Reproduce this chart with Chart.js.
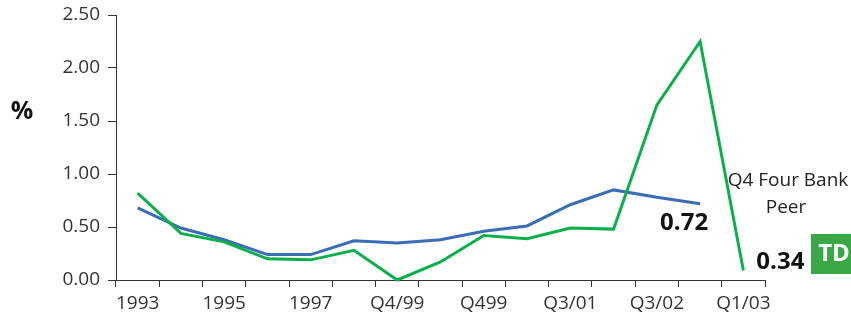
<!DOCTYPE html>
<html>
<head>
<meta charset="utf-8">
<script src="https://cdn.jsdelivr.net/npm/chart.js@4/dist/chart.umd.min.js"></script>
<style>
  body { margin: 0; background: #fff; }
  canvas { display: block; }
</style>
</head>
<body>
<canvas id="chart" width="851" height="326"></canvas>
<script>
const categories = ['1993', '1994', '1995', '1996', '1997', '1998', 'Q4/99', 'Q2/00', 'Q499', 'Q1/01', 'Q3/01', 'Q1/02', 'Q3/02', 'Q4/02', 'Q1/03'];
const peerValues = [0.68, 0.49, 0.38, 0.24, 0.24, 0.37, 0.35, 0.38, 0.46, 0.51, 0.71, 0.85, 0.78, 0.72, null];
const tdValues = [0.82, 0.44, 0.36, 0.20, 0.19, 0.28, 0.00, 0.17, 0.42, 0.39, 0.49, 0.48, 1.65, 2.25, 0.09];
const yTicks = [0, 0.5, 1.0, 1.5, 2.0, 2.5];
const peerLabel = '0.72';
const tdLabel = '0.34';
const peerNote = ['Q4 Four Bank', 'Peer'];

const FONT = '"Open Sans", sans-serif';
const BLUE = '#3a6db5';
const GREEN = '#0bb04a';

// free text around the plot: %, end values, peer note, TD badge
const notes = {
  id: 'notes',
  afterDraw(chart) {
    const ctx = chart.ctx;
    const x = chart.scales.x, y = chart.scales.y;
    ctx.save();
    ctx.fillStyle = '#111';
    ctx.textAlign = 'center';
    ctx.textBaseline = 'middle';
    ctx.font = 'bold 25px ' + FONT;
    ctx.fillText('%', 22, 112);

    const px = x.getPixelForValue(13), py = y.getPixelForValue(peerValues[13]);
    ctx.font = 'bold 24px ' + FONT;
    ctx.fillText(peerLabel, px - 16, py + 19);

    const tx = x.getPixelForValue(14), ty = y.getPixelForValue(tdValues[14]);
    ctx.fillText(tdLabel, tx + 37, ty - 8);

    ctx.font = '19px ' + FONT;
    ctx.fillStyle = '#222';
    ctx.fillText(peerNote[0], 788, 181);
    ctx.fillText(peerNote[1], 786, 208);

    ctx.fillStyle = '#3aa846';
    ctx.fillRect(811, 234, 42, 40);
    ctx.fillStyle = '#fff';
    ctx.font = 'bold 24px ' + FONT;
    ctx.fillText('TD', 834, 254);
    ctx.restore();
  }
};

new Chart(document.getElementById('chart'), {
  type: 'line',
  data: {
    labels: categories,
    datasets: [
      { label: 'TD', data: tdValues, borderColor: GREEN, borderWidth: 3, pointRadius: 0, tension: 0, clip: false },
      { label: 'Four Bank Peer', data: peerValues, borderColor: BLUE, borderWidth: 3, pointRadius: 0, tension: 0, clip: false }
    ]
  },
  options: {
    responsive: false,
    animation: false,
    layout: { padding: { top: 15, right: 86, left: 0, bottom: 0 } },
    plugins: { legend: { display: false }, tooltip: { enabled: false } },
    scales: {
      x: {
        offset: true,
        grid: { offset: true, drawOnChartArea: false, drawTicks: true, tickLength: 7, color: '#333' },
        border: { display: true, color: '#333', width: 1 },
        ticks: {
          autoSkip: false, maxRotation: 0, padding: 5, color: '#333',
          font: { family: FONT, size: 19 },
          callback: (v, i) => i % 2 === 0 ? categories[i] : ''
        },
        afterFit: s => { s.height = 46; }
      },
      y: {
        min: 0, max: 2.5,
        afterBuildTicks: s => { s.ticks = yTicks.map(v => ({ value: v })); },
        grid: { drawOnChartArea: false, drawTicks: true, tickLength: 8, color: '#333' },
        border: { display: true, color: '#333', width: 1 },
        ticks: {
          padding: 8, color: '#333',
          font: { family: FONT, size: 19 },
          callback: v => Number(v).toFixed(2)
        },
        afterFit: s => { s.width = 116; s.paddingTop = 0; s.paddingBottom = 0; }
      }
    }
  },
  plugins: [notes]
});
</script>
</body>
</html>
